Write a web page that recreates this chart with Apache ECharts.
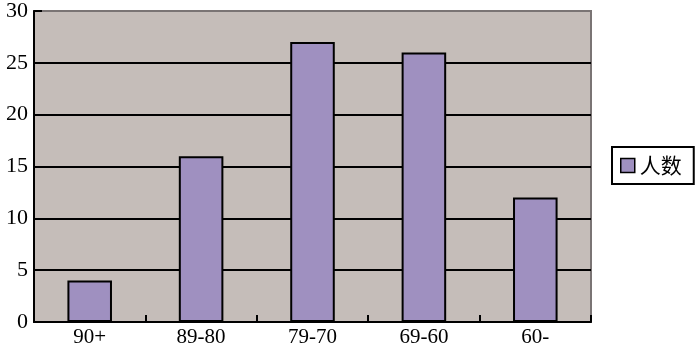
<!DOCTYPE html>
<html><head><meta charset="utf-8">
<script src="https://cdn.jsdelivr.net/npm/echarts@6/dist/echarts.min.js"></script>
<style>html,body{margin:0;padding:0;background:#fff}#c{width:700px;height:351px}</style>
</head><body><div id="c"></div>
<script>
const categories = ['90+', '89-80', '79-70', '69-60', '60-'];
const counts = [4, 16, 27, 26, 12];
const seriesName = '人数';

const chart = echarts.init(document.getElementById('c'), null, {renderer: 'canvas'});
chart.setOption({
  animation: false,
  grid: {left: 34, right: 109, top: 10, bottom: 29, show: true, backgroundColor: '#c5bdb9', borderColor: '#7a7474', borderWidth: 2},
  legend: {
    left: 612, top: 147, orient: 'vertical',
    backgroundColor: '#fff', borderColor: '#000', borderWidth: 2,
    padding: [8, 12, 8, 8],
    itemWidth: 14, itemHeight: 14, itemGap: 0,
    textStyle: {fontFamily: 'Noto Sans CJK SC', fontSize: 21, color: '#000'},
    data: [{name: seriesName, icon: 'rect', itemStyle: {borderColor: '#000', borderWidth: 1.5}}]
  },
  xAxis: {
    type: 'category', data: categories,
    axisLine: {lineStyle: {color: '#000', width: 2}},
    axisTick: {show: true, inside: true, length: 7, lineStyle: {color: '#000', width: 2}},
    axisLabel: {fontFamily: 'Liberation Serif', fontSize: 21, color: '#000', margin: 5}
  },
  yAxis: {
    type: 'value', min: 0, max: 30, interval: 5,
    axisLine: {show: true, lineStyle: {color: '#000', width: 2}},
    axisTick: {show: true, inside: true, length: 8, lineStyle: {color: '#000', width: 2}},
    axisLabel: {fontFamily: 'Liberation Serif', fontSize: 22, color: '#000', margin: 6},
    splitLine: {show: true, lineStyle: {color: ['#000', '#000', '#000', '#000', '#000', '#000', '#7a7474'], width: 2}}
  },
  series: [{
    name: seriesName, type: 'bar', data: counts, barWidth: '40%',
    itemStyle: {color: '#9f90c0', borderColor: '#000', borderWidth: 2}
  }]
});
</script></body></html>
